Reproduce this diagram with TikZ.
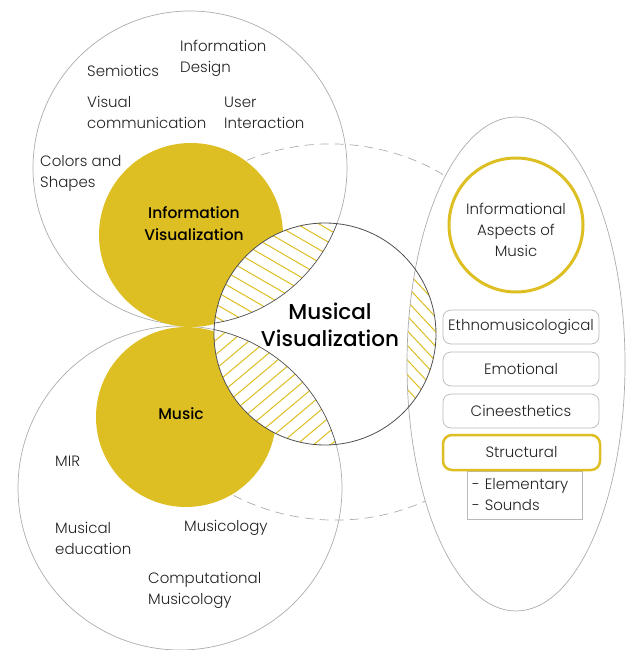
\documentclass[tikz,border=0pt]{standalone}
\usepackage{fontspec}
\setmainfont{Poppins}[UprightFont=* Light, BoldFont=* Medium]
\definecolor{gold}{RGB}{222,191,35}
\definecolor{ringgray}{RGB}{172,172,172}
\definecolor{ringdark}{RGB}{80,80,80}
\definecolor{boxgray}{RGB}{185,185,185}
\definecolor{ink}{RGB}{35,35,35}
\begin{document}
\begin{tikzpicture}[x=1pt,y=-1pt,
  ring/.style={draw=ringgray, line width=0.7pt},
  innerring/.style={draw=ringdark, line width=0.7pt},
  hatchline/.style={draw=gold, line width=1pt},
  lbl/.style={anchor=west, align=left, inner sep=0pt, text=ink,
    font=\fontsize{15}{21}\selectfont},
  clbl/.style={align=center, inner sep=0pt, text=ink,
    font=\fontsize{15}{21}\selectfont},
  titlelbl/.style={align=center, inner sep=0pt, text=black,
    font=\bfseries\fontsize{15.5}{22}\selectfont},
  bigtitle/.style={align=center, inner sep=0pt, text=black,
    font=\bfseries\fontsize{21.5}{27}\selectfont},
  aspectbox/.style={draw=boxgray, line width=0.7pt, rounded corners=8pt,
    minimum width=156pt, minimum height=34pt, inner sep=0pt, text=ink,
    font=\fontsize{15}{21}\selectfont},
  keybox/.style={draw=gold, line width=2.5pt, rounded corners=9pt, fill=white,
    minimum width=157pt, minimum height=35pt, inner sep=0pt, text=ink,
    font=\fontsize{15}{21}\selectfont},
  subbox/.style={draw=boxgray, line width=0.7pt, align=left, text width=105pt,
    inner xsep=5pt, inner ysep=0pt, minimum height=48pt, text=ink,
    font=\fontsize{15}{21}\selectfont},
]
\useasboundingbox (0,0) rectangle (627,650);

% centres of the main shapes
\coordinate (cInfoRing) at (190,168);
\coordinate (cMusicRing) at (180,488);
\coordinate (cInfoVis) at (191,235);
\coordinate (cMusic) at (186,417);
\coordinate (cMusVis) at (325,334);
\coordinate (cAspects) at (516,364);
\coordinate (cOuter) at (333,332);

% dashed outer boundary of the musical visualization field (right part only)
\begin{scope}
  \clip (200,0) rectangle (627,650);
  \draw[ringgray, line width=0.7pt, dash pattern=on 9pt off 6pt,
    rotate around={-4:(cOuter)}] (cOuter) ellipse [x radius=205, y radius=188];
\end{scope}

% the two large domain circles
\draw[ring] (cInfoRing) circle [radius=157];
\draw[ring] (cMusicRing) circle [radius=162];

% aspects ellipse
\draw[ring, fill=white] (cAspects) ellipse [x radius=109, y radius=247];

% core domains
\fill[gold] (cInfoVis) circle [radius=92];
\fill[gold] (cMusic) circle [radius=90];

% musical visualization disc
\fill[white] (cMusVis) circle [radius=111];

% overlap with the information domain
\begin{scope}
  \clip (cMusVis) circle [radius=111];
  \clip (cInfoRing) circle [radius=157];
  \begin{scope}[shift={(270,280)}, rotate=-30]
    \foreach \d in {-150,-139,...,150} \draw[hatchline] (-250,\d) -- (250,\d);
  \end{scope}
\end{scope}

% overlap with the music domain
\begin{scope}
  \clip (cMusVis) circle [radius=111];
  \clip (cMusicRing) circle [radius=162];
  \begin{scope}[shift={(270,390)}, rotate=40]
    \foreach \d in {-150,-139,...,150} \draw[hatchline] (-250,\d) -- (250,\d);
  \end{scope}
\end{scope}

% overlap with the aspects ellipse
\begin{scope}
  \clip (cMusVis) circle [radius=111];
  \clip (cAspects) ellipse [x radius=109, y radius=247];
  \begin{scope}[shift={(425,335)}, rotate=-47]
    \foreach \d in {-150,-140,...,150} \draw[hatchline] (-250,\d) -- (250,\d);
  \end{scope}
\end{scope}

% boundaries seen inside the disc
\begin{scope}
  \clip (cMusVis) circle [radius=111];
  \draw[innerring] (cInfoRing) circle [radius=157];
  \draw[innerring] (cMusicRing) circle [radius=162];
  \draw[innerring, draw=ringgray] (cAspects) ellipse [x radius=109, y radius=247];
\end{scope}
\draw[draw=ringdark, line width=0.8pt] (cMusVis) circle [radius=111];

% informational aspects
\draw[gold, line width=3pt] (516,225) circle [radius=67];
\node[clbl] (aspects) at (516,230) {Informational\\Aspects of\\Music};

\node[aspectbox] (ethno) at (521,327) {Ethnomusicological};
\node[aspectbox] (emotional) at (521,369) {Emotional};
\node[aspectbox] (cine) at (521,411) {Cineesthetics};
\node[subbox] (sounds) at (524.5,495) {- Elementary\\- Sounds};
\node[keybox] (structural) at (521.5,452.5) {Structural};

% information domain topics
\node[lbl] (infodesign) at (180,58.5) {Information\\Design};
\node[lbl] (semiotics) at (87,71) {Semiotics};
\node[lbl] (visualcomm) at (87,112.5) {Visual\\communication};
\node[lbl] (userint) at (224,112.5) {User\\Interaction};
\node[lbl] (colors) at (40,173.5) {Colors and\\Shapes};

% music domain topics
\node[lbl] (mir) at (55,461) {MIR};
\node[lbl] (musedu) at (55,538.5) {Musical\\education};
\node[lbl] (musicology) at (184,528) {Musicology};
\node[lbl] (compmus) at (148,590.5) {Computational\\Musicology};

% titles
\node[titlelbl] (infovis) at (194,224) {Information\\Visualization};
\node[titlelbl] (music) at (181,414) {Music};
\node[bigtitle] (musvis) at (330,324.5) {Musical\\Visualization};
\end{tikzpicture}
\end{document}
